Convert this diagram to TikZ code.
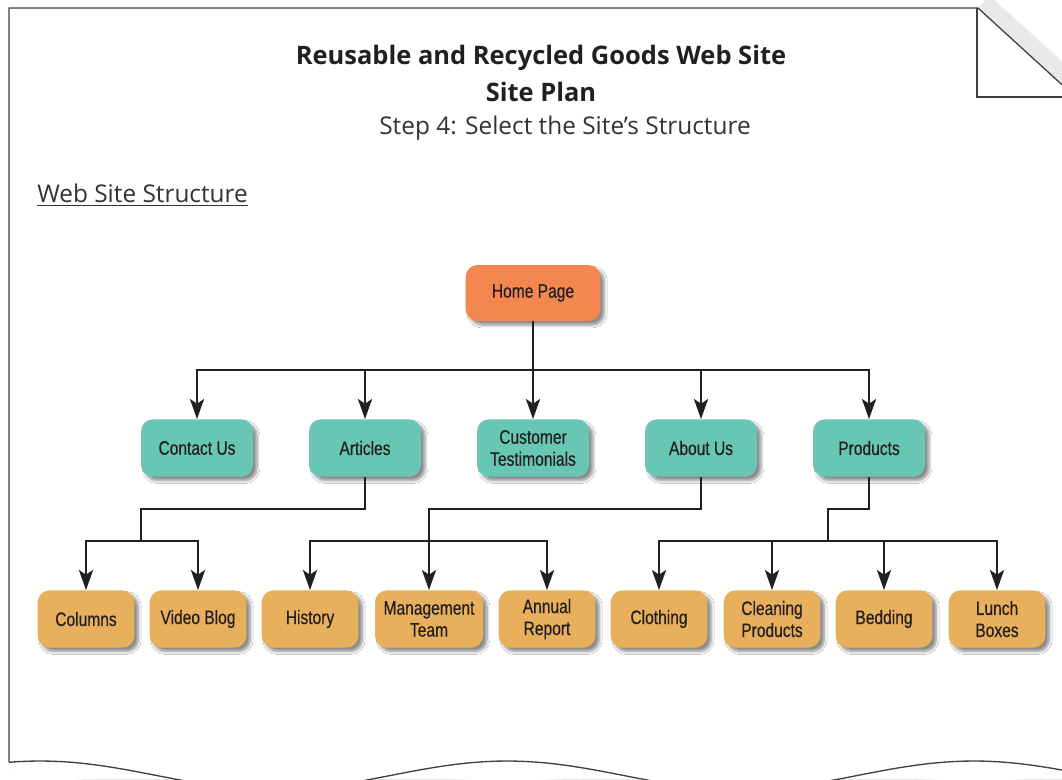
\documentclass[tikz,border=0pt]{standalone}
\usepackage{fontspec}
\usepackage{tikz}
\usetikzlibrary{arrows.meta,shadows.blur}
\setmainfont{Open Sans}
\newfontfamily\boxfont[FakeStretch=0.8,FakeBold=0.4]{Liberation Sans}

\definecolor{homeorange}{HTML}{F4874F}
\definecolor{pageteal}{HTML}{67C6B4}
\definecolor{subgold}{HTML}{E8AF5C}
\definecolor{inkdark}{HTML}{231F20}

\begin{document}
\begin{tikzpicture}[x=0.75pt,y=-0.75pt,
	box/.style={rounded corners=9pt, align=center, text=inkdark, inner sep=2pt,
		font=\boxfont\fontsize{14.6}{16.5}\selectfont,
		blur shadow={shadow xshift=3pt, shadow yshift=-3pt, shadow opacity=45, shadow blur steps=6}},
	homebox/.style={box, fill=homeorange, minimum width=101pt, minimum height=42pt},
	mainbox/.style={box, fill=pageteal, minimum width=84pt, minimum height=43pt},
	subbox/.style={box, fill=subgold, minimum width=72.5pt, minimum height=43pt},
	link/.style={inkdark, line width=2.2pt},
	arrow/.style={link, -{Stealth[length=15pt, width=10.5pt, inset=3.5pt]}},
	page/.style={black!75, line width=1pt}]
	\clip (0,0) rectangle (1062,779);

	% sheet of paper: shadows first, then the outline
	\foreach \k in {1,...,10}
		\draw[black, opacity=0.06, line width=2pt] plot[domain=9:1062, samples=120]
			(\x, {761+1.5*\k+14.5*(1-cos((\x-40)/467*360))});
	\foreach \k in {1,...,10}
		\draw[black, opacity=0.05, line width=2pt] (978+1.1*\k,8-1.2*\k) -- (1070+1.1*\k,92-1.2*\k);
	\fill[white] (9,8) -- (978,8) -- (1070,92) -- (1070,779) -- (9,779) -- cycle;
	\draw[page] (9,762) -- (9,8) -- (978,8) -- (1070,92);
	\draw[page] (977,8) -- (977,97) -- (1070,97);
	\draw[page] plot[domain=9:1062, samples=120] (\x, {761+14.5*(1-cos((\x-40)/467*360))});

	% headings
	\node[font=\bfseries\fontsize{19.1}{21}\selectfont, text=inkdark] (title) at (541,58) {Reusable and Recycled Goods Web Site};
	\node[font=\bfseries\fontsize{19.1}{21}\selectfont, text=inkdark] (plan) at (541,92) {Site Plan};
	\node[font=\fontsize{18.3}{20}\selectfont, text=black!80] (step) at (565,128) {Step 4: Select the Site’s Structure};
	\node[font=\fontsize{18.3}{20}\selectfont, text=black!80, anchor=west, inner sep=0pt] (struct) at (37,195) {\underline{Web Site Structure}};

	% home page and main sections
	\node[homebox] (home) at (533,293) {Home Page};
	\node[mainbox] (contact) at (197,448) {Contact Us};
	\node[mainbox] (articles) at (365,448) {Articles};
	\node[mainbox] (testi) at (533,448) {Customer\\Testimonials};
	\node[mainbox] (about) at (701,448) {About Us};
	\node[mainbox] (products) at (869,448) {Products};

	% pages under the sections
	\node[subbox] (columns) at (86,619) {Columns};
	\node[subbox] (vblog) at (198,619) {Video Blog};
	\node[subbox] (history) at (310,619) {History};
	\node[subbox, minimum width=81pt] (mgmt) at (429,619) {Management\\Team};
	\node[subbox] (annual) at (547,619) {Annual\\Report};
	\node[subbox] (clothing) at (659,619) {Clothing};
	\node[subbox] (cleaning) at (772,619) {Cleaning\\Products};
	\node[subbox] (bedding) at (884,619) {Bedding};
	\node[subbox] (lunch) at (997,619) {Lunch\\Boxes};

	\coordinate (homefork) at (533,370);
	\coordinate (artbend) at (141,509);
	\coordinate (artfork) at (141,541);
	\coordinate (aboutbend) at (429,509);
	\coordinate (aboutfork) at (429,541);
	\coordinate (prodbend) at (828,509);
	\coordinate (prodfork) at (828,541);

	% Home Page
	\draw[link] (home.south) -- (homefork);
	\draw[arrow] (homefork) -| (contact.north);
	\draw[arrow] (homefork) -| (articles.north);
	\draw[arrow] (homefork) -- (testi.north);
	\draw[arrow] (homefork) -| (about.north);
	\draw[arrow] (homefork) -| (products.north);
	% Articles
	\draw[link] (articles.south) |- (artbend) -- (artfork);
	\draw[arrow] (artfork) -| (columns.north);
	\draw[arrow] (artfork) -| (vblog.north);
	% About Us
	\draw[link] (about.south) |- (aboutbend) -- (aboutfork);
	\draw[arrow] (aboutfork) -| (history.north);
	\draw[arrow] (aboutfork) -- (mgmt.north);
	\draw[arrow] (aboutfork) -| (annual.north);
	% Products
	\draw[link] (products.south) |- (prodbend) -- (prodfork);
	\draw[arrow] (prodfork) -| (clothing.north);
	\draw[arrow] (prodfork) -| (cleaning.north);
	\draw[arrow] (prodfork) -| (bedding.north);
	\draw[arrow] (prodfork) -| (lunch.north);
\end{tikzpicture}
\end{document}
